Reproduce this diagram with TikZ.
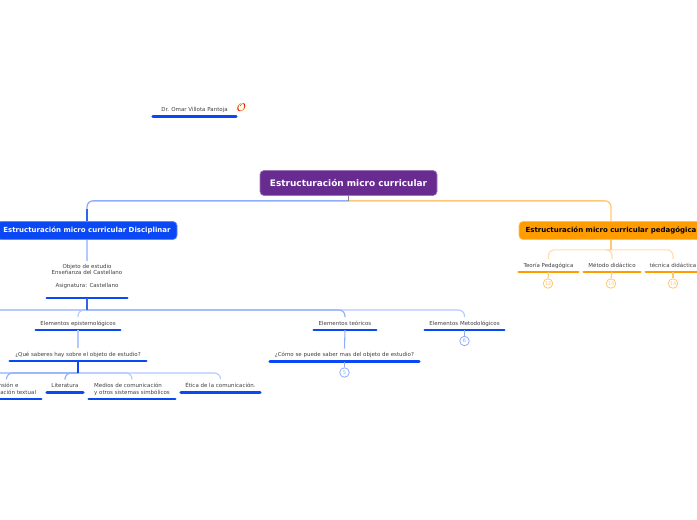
\documentclass[tikz,border=0pt]{standalone}
\usepackage{fontspec}
\setmainfont{DejaVu Sans}
\definecolor{bluebar}{HTML}{0A47F5}
\definecolor{bluedark}{HTML}{2F66E8}
\definecolor{bluelight}{HTML}{B4C8FF}
\definecolor{bluemid}{HTML}{8FADFC}
\definecolor{purplebox}{HTML}{682C91}
\definecolor{orangebox}{HTML}{FF9C00}
\definecolor{orangemid}{HTML}{FFC878}
\definecolor{orangelight}{HTML}{FFDDAA}
\definecolor{txtgray}{HTML}{404040}
\tikzset{
  x=1pt,y=-1pt,
  topbox/.style={draw=#1!65!white,line width=0.7pt,fill=#1,rounded corners=4pt,inner sep=0pt,anchor=center},
  topic/.style={inner xsep=0pt,inner ysep=3.6pt,anchor=south,align=center,font=\fontsize{5.5}{6.6}\selectfont,text=txtgray,text depth=1pt},
  barblue/.style={line width=2.8pt,bluebar,line cap=round},
  barorange/.style={line width=2.8pt,orangebox,line cap=round},
  conn/.style={line width=1.1pt,rounded corners=6pt},
  badge/.style={circle,draw=#1,fill=white,line width=0.8pt,minimum size=9.5pt,inner sep=0pt,font=\fontsize{5}{5}\selectfont,text=#1},
}
\begin{document}
\begin{tikzpicture}
\useasboundingbox (0,0) rectangle (697,520);
% main boxes
\node[topbox=purplebox,minimum width=177pt,minimum height=25pt,text=white,font=\bfseries\fontsize{8.95}{10}\selectfont] (root) at (348.5,183) {Estructuración micro curricular};
\node[topbox=bluebar,minimum width=180pt,minimum height=18pt,text=white,font=\bfseries\fontsize{7}{8}\selectfont] (disc) at (87,230.5) {Estructuración micro curricular Disciplinar};
\node[topbox=orangebox,minimum width=184pt,minimum height=18pt,text=black,font=\bfseries\fontsize{7}{8}\selectfont] (peda) at (611,230.5) {Estructuración micro curricular pedagógica};
% author
\node[topic,minimum width=83pt] (omar) at (194.5,116.5) {Dr. Omar Villota Pantoja};
\draw[barblue] (omar.south west) -- (omar.south east);
\node[fill=yellow!12,inner sep=0.5pt,text=red!85!black,font=\fontsize{11}{11}\selectfont] (icon) at (241.5,107.5) {$\mathcal{O}$};
% disciplinar
\node[topic,minimum width=80pt,inner ysep=9.5pt] (objeto) at (87,298) {Objeto de estudio\\Enseñanza del Castellano\\[6pt]Asignatura: Castellano};
\draw[barblue] (objeto.south west) -- (objeto.south east);
\coordinate (objtop) at (87,261);
\node[topic,minimum width=84pt] (epis) at (78,330) {Elementos epistemológicos};
\draw[barblue] (epis.south west) -- (epis.south east);
\node[topic,minimum width=62pt] (teo) at (345,330) {Elementos teóricos};
\draw[barblue] (teo.south west) -- (teo.south east);
\node[topic,minimum width=79pt] (meto) at (464.5,330) {Elementos Metodológicos};
\draw[barblue] (meto.south west) -- (meto.south east);
\node[topic,minimum width=136pt] (que) at (78,361) {¿Qué saberes hay sobre el objeto de estudio?};
\draw[barblue] (que.south west) -- (que.south east);
\node[topic,minimum width=149pt] (como) at (344.5,361.5) {¿Cómo se puede saber mas del objeto de estudio?};
\draw[barblue] (como.south west) -- (como.south east);
\node[topic,minimum width=69pt,align=left] (expr) at (6.5,399) {Comprensión e\\comunicación textual};
\draw[barblue] (expr.south west) -- (expr.south east);
\node[topic,minimum width=36pt] (lit) at (65,392.5) {Literatura};
\draw[barblue] (lit.south west) -- (lit.south east);
\node[topic,minimum width=86pt,align=left] (med) at (132,399) {Medios de comunicación\\y otros sistemas simbólicos};
\draw[barblue] (med.south west) -- (med.south east);
\node[topic,minimum width=79pt] (etica) at (220.5,392.5) {Ética de la comunicación.};
\draw[barblue] (etica.south west) -- (etica.south east);
\node[badge=bluemid] (b5) at (344.5,372.5) {5};
\node[badge=bluemid] (b6) at (464.5,341) {6};
\coordinate (offa) at (-30,320);
\coordinate (offb) at (-12,380);
% pedagogica
\node[topic,minimum width=59pt] (teor) at (548.5,272) {Teoría Pedagógica};
\draw[barorange] (teor.south west) -- (teor.south east);
\node[topic,minimum width=56pt] (meti) at (612,272) {Método didáctico};
\draw[barorange] (meti.south west) -- (meti.south east);
\node[topic,minimum width=54pt] (tecn) at (673,272) {técnica didáctica};
\draw[barorange] (tecn.south west) -- (tecn.south east);
\node[badge=orangemid] (c1) at (548,283.5) {12};
\node[badge=orangemid] (c2) at (611,283.5) {14};
\node[badge=orangemid] (c3) at (673,283.5) {14};
% connectors
\path (root.south) ++(0,5) coordinate (ja);
\path (objeto.south) ++(0,12) coordinate (jb);
\path (que.south) ++(0,12) coordinate (jc);
\path (peda.south) ++(0,10) coordinate (jd);
\draw[conn,line width=1.3pt,bluemid] (ja) -| (disc.north);
\draw[line width=1.3pt,bluedark] (disc.north) -- ++(0,-12);
\draw[conn,line width=1.3pt,orangemid] (ja) -| (peda.north);
\draw[line width=1pt,gray] (root.south) -- (ja);
\draw[conn,bluelight] (disc.south) -- (objtop);
\draw[conn,bluelight] (jb) -| (meto.north);
\draw[conn,bluemid] (jb) -| (offa);
\draw[conn,bluelight] (jb) -| (epis.north);
\draw[conn,bluemid] (jb) -| (teo.north);
\draw[line width=1.3pt,bluedark] (objeto.south) -- (jb);
\draw[conn,bluelight] (epis.south) -- (que.north);
\draw[conn,bluemid] (teo.south) -- (como.north);
\draw[conn,bluemid] (como.south) -- (b5.north);
\draw[conn,bluemid] (meto.south) -- (b6.north);
\draw[conn,bluelight] (jc) -| (etica.north);
\draw[conn,bluelight] (jc) -| (med.north);
\draw[conn,bluemid] (jc) -| (lit.north);
\draw[conn,bluemid] (jc) -| (expr.north);
\draw[conn,bluemid] (jc) -| (offb);
\draw[line width=1.3pt,bluebar] (que.south) -- (jc);
\draw[conn,orangelight] (jd) -| (teor.north);
\draw[conn,orangelight] (jd) -| (tecn.north);
\draw[conn,orangelight] (jd) -- (meti.north |- jd) -- (meti.north);
\draw[line width=1.3pt,orangemid] (peda.south) -- (jd);
\draw[conn,orangemid] (teor.south) -- (c1.north);
\draw[conn,orangemid] (meti.south) -- (c2.north);
\draw[conn,orangemid] (tecn.south) -- (c3.north);
\end{tikzpicture}
\end{document}
